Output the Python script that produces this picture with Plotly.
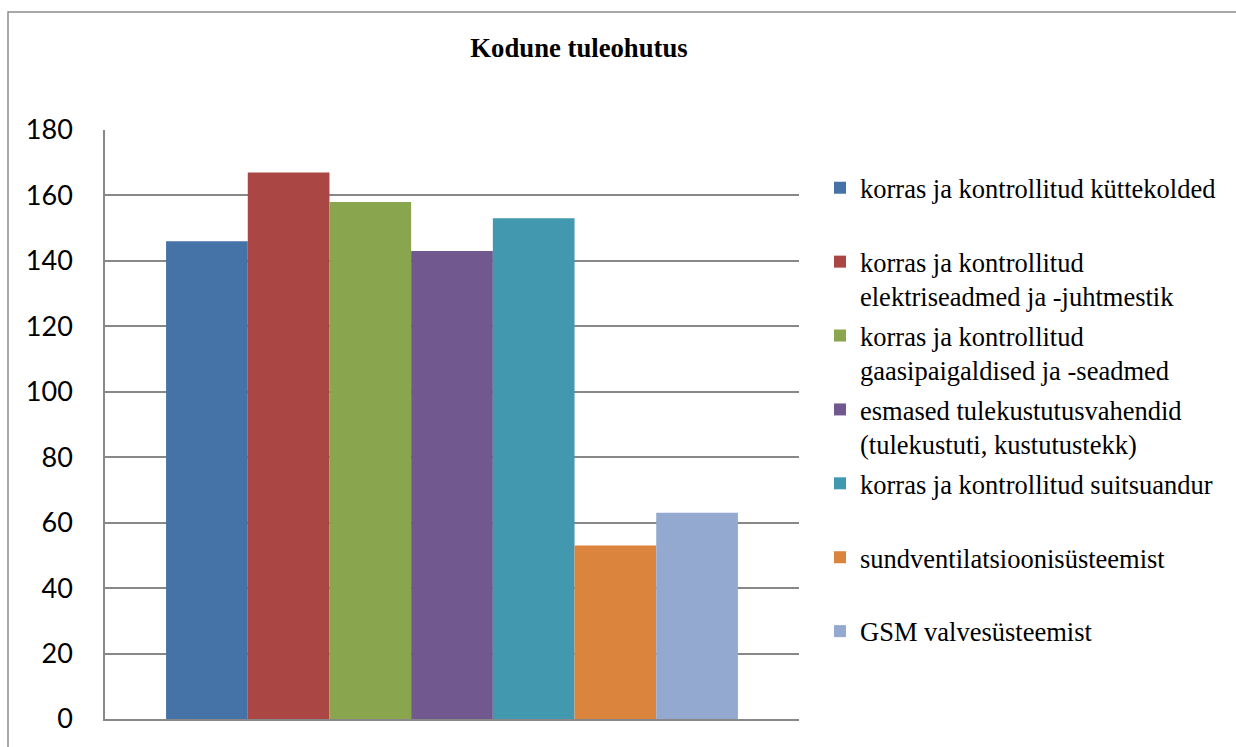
import plotly.graph_objects as go

title = "Kodune tuleohutus"
category = [""]
series_names = [
    "korras ja kontrollitud küttekolded",
    "korras ja kontrollitud<br>elektriseadmed ja -juhtmestik",
    "korras ja kontrollitud<br>gaasipaigaldised ja -seadmed",
    "esmased tulekustutusvahendid<br>(tulekustuti, kustutustekk)",
    "korras ja kontrollitud suitsuandur",
    "sundventilatsioonisüsteemist",
    "GSM valvesüsteemist",
]
series_values = [146, 167, 158, 143, 153, 53, 63]
colors = ["#4572A7", "#AA4643", "#89A54E", "#71588F", "#4198AF", "#DB843D", "#93A9CF"]
y_ticks = [0, 20, 40, 60, 80, 100, 120, 140, 160, 180]

W, H = 1236, 747
L, R, T, B = 105, 437, 130, 28
pw, ph = W - L - R, H - T - B

fig = go.Figure()
for i, (name, val, col) in enumerate(zip(series_names, series_values, colors)):
    # pad single-line names to two lines so every legend slot is equal height
    label = name if "<br>" in name else name + "<br> "
    fig.add_trace(go.Bar(x=category, y=[val], name=label, legendgroup=f"g{i}",
                         marker=dict(color=col, line=dict(width=0))))

fig.update_layout(
    width=W, height=H,
    margin=dict(l=L, r=R, t=T, b=B),
    paper_bgcolor="white", plot_bgcolor="white",
    barmode="group", bargap=0.176, bargroupgap=0,
    title=dict(text="<b>" + title + "</b>", x=579 / W, xref="container", xanchor="center",
               y=1 - 48 / H, yref="container", yanchor="middle",
               font=dict(family="Liberation Serif", size=26.7, color="black")),
    legend=dict(x=(820 - L) / pw, xanchor="left", y=1 - (164 - T) / ph, yanchor="top",
                valign="top", traceorder="grouped", tracegroupgap=2,
                font=dict(family="Liberation Serif", size=26.5, color="black"),
                bgcolor="rgba(0,0,0,0)"),
    showlegend=True,
    font=dict(family="Lato", color="black"),
)
fig.update_xaxes(showticklabels=False, showgrid=False, showline=True, linecolor="#888888",
                 linewidth=1.5, ticks="", zeroline=False)
fig.update_yaxes(range=[0, 180], tickvals=y_ticks, showgrid=True, gridcolor="#888888", gridwidth=1.5,
                 showline=True, linecolor="#888888", linewidth=1.5, ticks="", zeroline=False,
                 tickfont=dict(family="Lato", size=27, color="black"), ticklabelstandoff=25)

# outer chart border
fig.add_shape(type="rect", xref="paper", yref="paper",
              x0=(8 - L) / pw, x1=(W + 5 - L) / pw,
              y0=-(B + 5) / ph, y1=(H - B - 12) / ph,
              line=dict(color="#8c8c8c", width=1.5), fillcolor="rgba(0,0,0,0)", layer="below")

fig.write_html("out.html", config={"displayModeBar": False},
               post_script="document.body.style.margin='0px';")
